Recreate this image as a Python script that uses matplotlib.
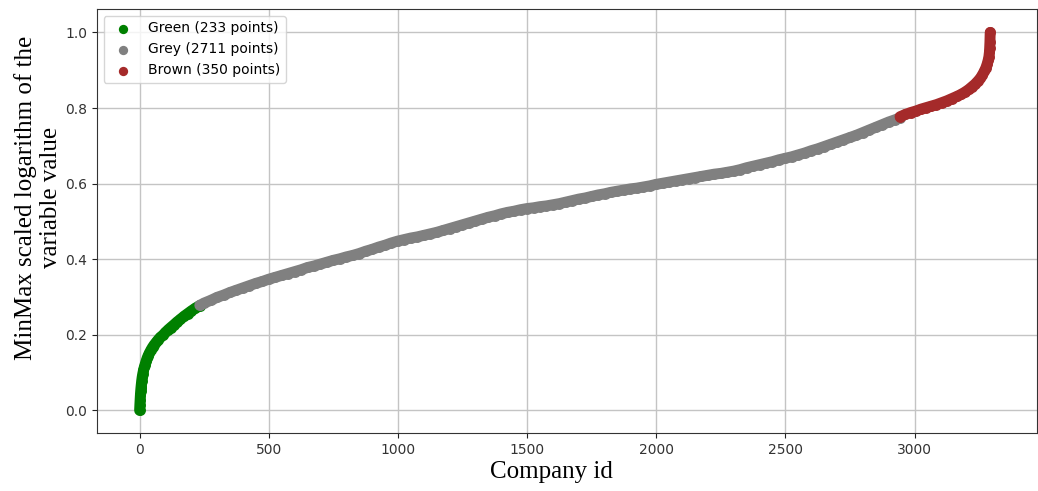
import matplotlib
matplotlib.use("Agg")
import matplotlib.pyplot as plt
import numpy as np

# ---- data ----
green_label = "Green (233 points)"
grey_label = "Grey (2711 points)"
brown_label = "Brown (350 points)"

green_ids = [0, 1, 2, 3, 4, 5, 6, 8, 10, 12, 15, 18, 21, 25, 29, 33, 38, 44, 50, 57,
             64, 72, 80, 90, 100, 110, 120, 132, 145, 158, 172, 186, 200, 215, 232]
green_vals = [0.000, 0.015, 0.028, 0.040, 0.050, 0.058, 0.065, 0.078, 0.088, 0.096,
              0.106, 0.114, 0.121, 0.130, 0.138, 0.145, 0.152, 0.160, 0.167, 0.174,
              0.180, 0.187, 0.193, 0.199, 0.206, 0.213, 0.219, 0.226, 0.234, 0.241,
              0.249, 0.256, 0.263, 0.270, 0.277]

grey_ids = [233, 250, 275, 300, 325, 350, 375, 400, 425, 450, 475, 500, 525, 550, 575,
            600, 625, 650, 675, 700, 725, 750, 775, 800, 825, 850, 875, 900, 925, 950,
            975, 1000, 1025, 1050, 1075, 1100, 1125, 1150, 1175, 1200, 1225, 1250, 1275,
            1300, 1325, 1350, 1375, 1400, 1425, 1450, 1475, 1500, 1525, 1550, 1575, 1600,
            1625, 1650, 1675, 1700, 1725, 1750, 1775, 1800, 1825, 1850, 1875, 1900, 1925,
            1950, 1975, 2000, 2025, 2050, 2075, 2100, 2125, 2150, 2175, 2200, 2225, 2250,
            2275, 2300, 2325, 2350, 2375, 2400, 2425, 2450, 2475, 2500, 2525, 2550, 2575,
            2600, 2625, 2650, 2675, 2700, 2725, 2750, 2775, 2800, 2825, 2850, 2875, 2900,
            2925, 2943]
grey_vals = [0.278, 0.284, 0.291, 0.299, 0.305, 0.312, 0.318, 0.324, 0.330, 0.336,
             0.341, 0.347, 0.352, 0.357, 0.362, 0.367, 0.372, 0.378, 0.382, 0.387,
             0.392, 0.397, 0.401, 0.406, 0.410, 0.415, 0.421, 0.426, 0.432, 0.437,
             0.443, 0.448, 0.452, 0.456, 0.459, 0.463, 0.467, 0.471, 0.476, 0.481,
             0.486, 0.491, 0.496, 0.501, 0.506, 0.511, 0.515, 0.520, 0.524, 0.527,
             0.531, 0.534, 0.536, 0.539, 0.541, 0.544, 0.547, 0.551, 0.555, 0.559,
             0.562, 0.566, 0.570, 0.573, 0.577, 0.580, 0.583, 0.586, 0.588, 0.591,
             0.594, 0.598, 0.601, 0.604, 0.607, 0.610, 0.613, 0.616, 0.619, 0.622,
             0.625, 0.627, 0.630, 0.633, 0.637, 0.642, 0.646, 0.650, 0.654, 0.658,
             0.663, 0.667, 0.671, 0.676, 0.681, 0.687, 0.692, 0.698, 0.704, 0.710,
             0.716, 0.722, 0.728, 0.735, 0.742, 0.749, 0.756, 0.763, 0.769, 0.774]

brown_ids = [2944, 2965, 2985, 3005, 3025, 3045, 3065, 3085, 3105, 3125, 3145, 3165,
             3180, 3195, 3210, 3222, 3234, 3245, 3255, 3263, 3270, 3276, 3281, 3285,
             3288, 3290, 3291, 3292, 3293]
brown_vals = [0.777, 0.783, 0.788, 0.792, 0.797, 0.801, 0.805, 0.809, 0.814, 0.819,
              0.825, 0.831, 0.836, 0.842, 0.849, 0.856, 0.863, 0.871, 0.879, 0.888,
              0.897, 0.906, 0.916, 0.926, 0.936, 0.948, 0.960, 0.975, 1.000]

x_label = "Company id"
y_label = "MinMax scaled logarithm of the\nvariable value"

# ---- figure ----
fig = plt.figure(figsize=(10.38, 4.91), dpi=100)
ax = fig.add_axes([0.0932, 0.1181, 0.9058, 0.8636])

ms = 62
lw = np.sqrt(ms)
series = [(green_ids, green_vals, "green", green_label),
          (grey_ids, grey_vals, "grey", grey_label),
          (brown_ids, brown_vals, "brown", brown_label)]
for ids, vals, col, lab in series:
    # dense band of overlapping dots, as in the reference
    ax.plot(ids, vals, color=col, lw=lw, solid_capstyle="round",
            solid_joinstyle="round", zorder=3)
    ax.scatter(ids, vals, s=ms, c=col, label=lab, zorder=3, linewidths=0)

ax.set_xlim(-166, 3474)
ax.set_ylim(-0.060, 1.062)
ax.set_xticks([0, 500, 1000, 1500, 2000, 2500, 3000])
ax.set_yticks([0.0, 0.2, 0.4, 0.6, 0.8, 1.0])
ax.grid(True, color="#c4c4c4", linewidth=1.0, zorder=0)
ax.set_axisbelow(True)
ax.tick_params(labelsize=10, colors="#222222", labelcolor="#333333")
for sp in ax.spines.values():
    sp.set_color("#333333")

ax.set_xlabel(x_label, fontsize=18, family="Liberation Serif")
ax.set_ylabel(y_label, fontsize=18, family="Liberation Serif")
ax.xaxis.set_label_coords(0.484, -0.066)
ax.yaxis.set_label_coords(-0.037, 0.555)

ax.legend(loc="upper left", fontsize=10, markerscale=0.85)

fig.savefig("out.png", dpi=100)
